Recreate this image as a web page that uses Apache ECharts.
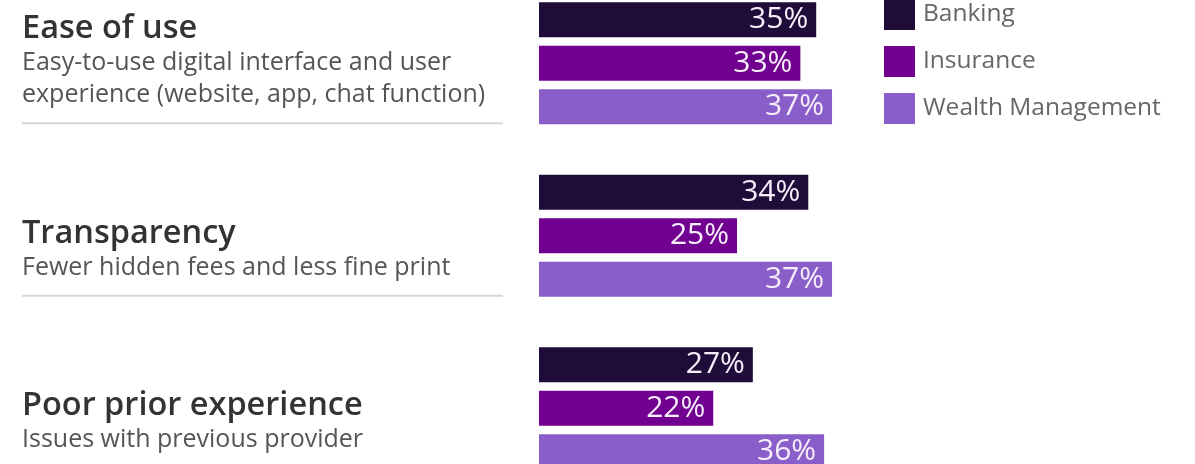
<!DOCTYPE html>
<html>
<head>
<meta charset="utf-8">
<style>
  html, body { margin: 0; padding: 0; background: #fff; }
  #chart { width: 1195px; height: 464px; }
</style>
<script src="https://cdn.jsdelivr.net/npm/echarts@6/dist/echarts.min.js"></script>
</head>
<body>
<div id="chart"></div>
<script>
  // data
  const categories = ['Ease of use', 'Transparency', 'Poor prior experience']
  const subtitles = [
    ['Easy-to-use digital interface and user', 'experience (website, app, chat function)'],
    ['Fewer hidden fees and less fine print'],
    ['Issues with previous provider']
  ]
  const seriesNames = ['Banking', 'Insurance', 'Wealth Management']
  const banking = [35, 34, 27]
  const insurance = [33, 25, 22]
  const wealth = [37, 37, 36]
  const colors = ['#200c38', '#710090', '#8a5ec9']

  const chart = echarts.init(document.getElementById('chart'))

  function barSeries(name, data, color) {
    return {
      name: name,
      type: 'bar',
      data: data,
      barWidth: 35,
      barGap: '24%',
      itemStyle: { color: color },
      label: {
        show: true,
        position: 'insideRight',
        distance: 8,
        formatter: '{c}%',
        color: '#f6eefb',
        fontFamily: 'Open Sans',
        fontSize: 30
      },
      animation: false
    }
  }

  chart.setOption({
    backgroundColor: '#fff',
    legend: {
      orient: 'vertical',
      left: 884,
      top: -1,
      padding: 0,
      itemWidth: 31,
      itemHeight: 31,
      itemGap: 16,
      icon: 'rect',
      textStyle: { color: '#666', fontFamily: 'Open Sans', fontSize: 24.5, padding: [0, 0, 0, 3] },
      data: seriesNames
    },
    grid: [
      { left: 539, top: -23, width: 396, height: 517.5, outerBoundsMode: 'none' },
      { left: 539, top: 38, width: 396, height: 517.5, outerBoundsMode: 'none' }
    ],
    xAxis: [
      { type: 'value', gridIndex: 0, min: 0, max: 50, show: false },
      { type: 'value', gridIndex: 1, min: 0, max: 50, show: false }
    ],
    yAxis: [
      {
        type: 'category', gridIndex: 0, inverse: true, data: categories,
        axisLine: { show: false }, axisTick: { show: false }, axisLabel: { show: false }
      },
      {
        type: 'category', gridIndex: 1, inverse: true, data: categories,
        axisLine: { show: false }, axisTick: { show: false },
        axisLabel: {
          margin: 517,
          align: 'left',
          verticalAlign: 'bottom',
          formatter: function (value, idx) {
            const subs = subtitles[idx].map(s => '{s|' + s + '}').join('\n')
            return '{t|' + value + '}\n' + subs + '\n{g| }\n{r| }'
          },
          rich: {
            t: { fontFamily: 'Open Sans', fontWeight: 600, fontSize: 32.5, lineHeight: 37, color: '#333' },
            s: { fontFamily: 'Open Sans', fontSize: 25, lineHeight: 32, color: '#555' },
            g: { fontSize: 1, lineHeight: 11 },
            r: { fontSize: 1, lineHeight: 2, height: 2, width: 481, backgroundColor: '#d6d6d6' }
          }
        }
      }
    ],
    series: [
      barSeries(seriesNames[0], banking, colors[0]),
      barSeries(seriesNames[1], insurance, colors[1]),
      barSeries(seriesNames[2], wealth, colors[2])
    ]
  })
</script>
</body>
</html>
